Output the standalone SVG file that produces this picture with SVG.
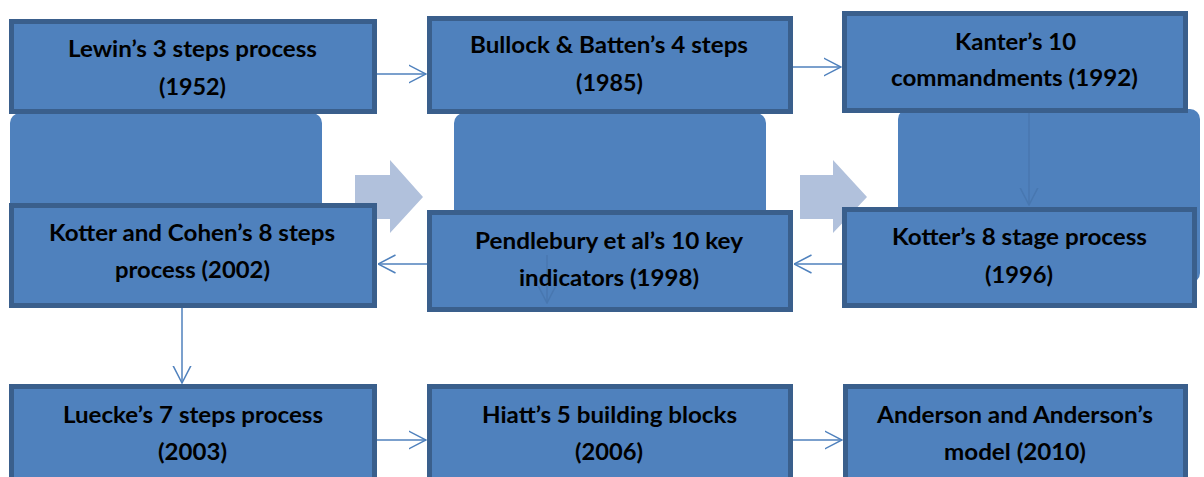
<svg xmlns="http://www.w3.org/2000/svg" width="1204" height="477" viewBox="0 0 1204 477">
<style>
.bg{fill:#4f81bd}
.blk{fill:#b1c1dc}
.box{fill:#4f81bd;stroke:#3a5f8c;stroke-width:5}
.t{font-family:Lato,"Liberation Sans",sans-serif;font-weight:bold;font-size:22px;fill:#000;text-anchor:middle}
.c{fill:none;stroke:#4f81bd;stroke-width:1.5}
.f{fill:none;stroke:#4877b0;stroke-width:1.5}
</style>
<defs>
<marker id="ah" viewBox="0 0 18 20" refX="17.5" refY="10" markerWidth="18" markerHeight="20" markerUnits="userSpaceOnUse" orient="auto">
<path d="M0,1 L17.5,10 L0,19" fill="none" stroke="#4f81bd" stroke-width="1.5"/>
</marker>
<marker id="ahf" viewBox="0 0 18 20" refX="17.5" refY="10" markerWidth="18" markerHeight="20" markerUnits="userSpaceOnUse" orient="auto">
<path d="M0,1 L17.5,10 L0,19" fill="none" stroke="#4877b0" stroke-width="1.5"/>
</marker>
</defs>
<g id="background">
<rect class="bg" x="10" y="113" width="312" height="110" rx="10"/>
<rect class="bg" x="454" y="113" width="312" height="110" rx="10"/>
<rect class="bg" x="898" y="109" width="302" height="174" rx="10"/>
<polygon class="blk" points="355,175 390,175 390,160 423,197 390,233 390,219 355,219"/>
<polygon class="blk" points="800,175 833,175 833,160 867,197 833,233 833,219 800,219"/>
</g>
<g id="faint-connectors">
<line class="f" x1="1029" y1="113" x2="1029" y2="205" marker-end="url(#ahf)"/>
</g>
<g id="n1"><rect class="box" x="11.5" y="21.5" width="363" height="90"/>
<text class="t" x="192.5" y="57" textLength="249" lengthAdjust="spacingAndGlyphs">Lewin’s 3 steps process</text>
<text class="t" x="192.5" y="95" textLength="67" lengthAdjust="spacingAndGlyphs">(1952)</text></g>
<g id="n2"><rect class="box" x="429.5" y="18.5" width="361" height="93"/>
<text class="t" x="609" y="53" textLength="278" lengthAdjust="spacingAndGlyphs">Bullock &amp; Batten’s 4 steps</text>
<text class="t" x="609.5" y="91" textLength="67" lengthAdjust="spacingAndGlyphs">(1985)</text></g>
<g id="n3"><rect class="box" x="844.5" y="13.5" width="341" height="97"/>
<text class="t" x="1015.5" y="50" textLength="121" lengthAdjust="spacingAndGlyphs">Kanter’s 10</text>
<text class="t" x="1014.5" y="86" textLength="247" lengthAdjust="spacingAndGlyphs">commandments (1992)</text></g>
<g id="n4"><rect class="box" x="11.5" y="205.5" width="363" height="100"/>
<text class="t" x="192" y="241" textLength="286" lengthAdjust="spacingAndGlyphs">Kotter and Cohen’s 8 steps</text>
<text class="t" x="192.5" y="278" textLength="155" lengthAdjust="spacingAndGlyphs">process (2002)</text></g>
<g id="n5"><rect class="box" x="429.5" y="212.5" width="361" height="97"/>
<line class="f" x1="547" y1="255" x2="547" y2="303" marker-end="url(#ahf)"/>
<text class="t" x="609" y="249" textLength="268" lengthAdjust="spacingAndGlyphs">Pendlebury et al’s 10 key</text>
<text class="t" x="609" y="286" textLength="180" lengthAdjust="spacingAndGlyphs">indicators (1998)</text></g>
<g id="n6"><rect class="box" x="844.5" y="209.5" width="350" height="96"/>
<text class="t" x="1019.5" y="245" textLength="255" lengthAdjust="spacingAndGlyphs">Kotter’s 8 stage process</text>
<text class="t" x="1019" y="283" textLength="68" lengthAdjust="spacingAndGlyphs">(1996)</text></g>
<g id="n7"><rect class="box" x="11.5" y="386.5" width="363" height="110"/>
<text class="t" x="193" y="423" textLength="260" lengthAdjust="spacingAndGlyphs">Luecke’s 7 steps process</text>
<text class="t" x="192.5" y="460" textLength="69" lengthAdjust="spacingAndGlyphs">(2003)</text></g>
<g id="n8"><rect class="box" x="429.5" y="386.5" width="361" height="110"/>
<text class="t" x="609.5" y="423" textLength="255" lengthAdjust="spacingAndGlyphs">Hiatt’s 5 building blocks</text>
<text class="t" x="609" y="460" textLength="68" lengthAdjust="spacingAndGlyphs">(2006)</text></g>
<g id="n9"><rect class="box" x="845.5" y="386.5" width="340" height="110"/>
<text class="t" x="1015" y="423" textLength="276" lengthAdjust="spacingAndGlyphs">Anderson and Anderson’s</text>
<text class="t" x="1015" y="460" textLength="142" lengthAdjust="spacingAndGlyphs">model (2010)</text></g>
<g id="connectors">
<line class="c" x1="377" y1="74" x2="426" y2="74" marker-end="url(#ah)"/>
<line class="c" x1="793" y1="67" x2="841" y2="67" marker-end="url(#ah)"/>
<line class="c" x1="842" y1="264" x2="794" y2="264" marker-end="url(#ah)"/>
<line class="c" x1="427" y1="264" x2="378" y2="264" marker-end="url(#ah)"/>
<line class="c" x1="182" y1="308" x2="182" y2="383" marker-end="url(#ah)"/>
<line class="c" x1="377" y1="440" x2="426" y2="440" marker-end="url(#ah)"/>
<line class="c" x1="793" y1="440" x2="842" y2="440" marker-end="url(#ah)"/>
</g>
</svg>
